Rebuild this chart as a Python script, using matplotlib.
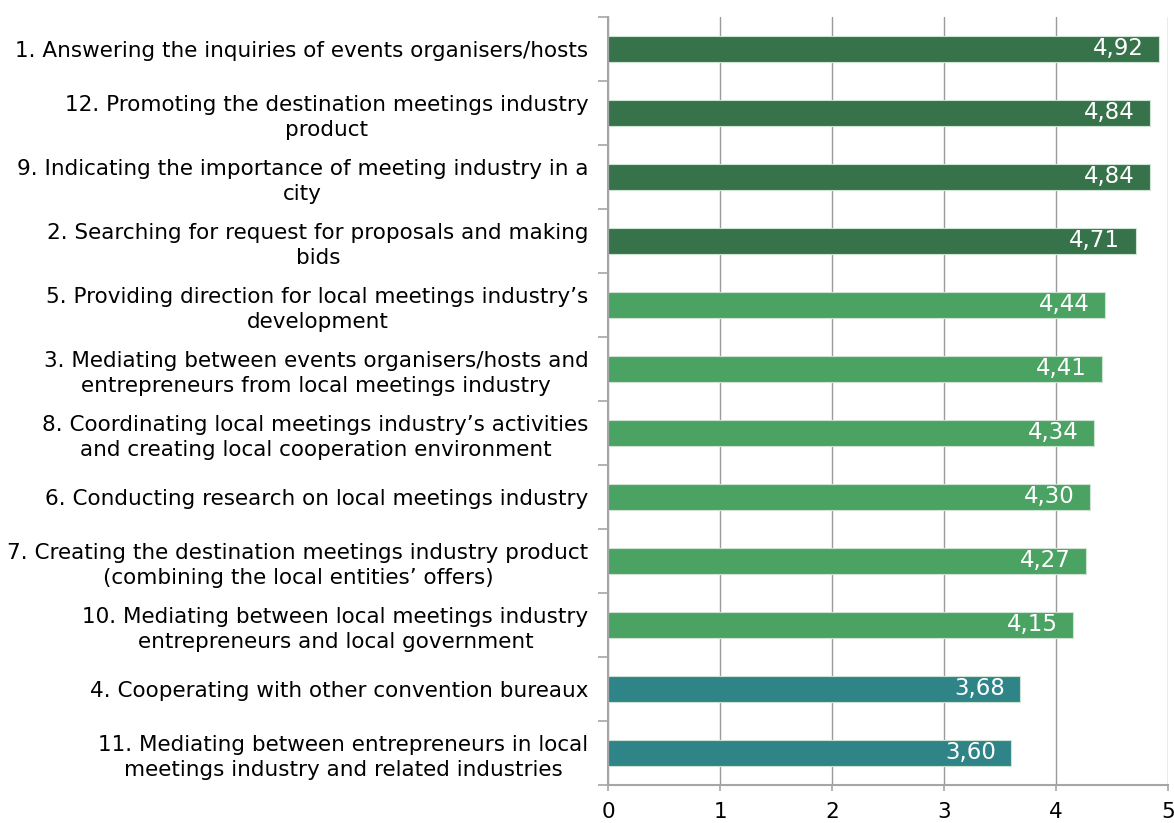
import matplotlib
matplotlib.use("Agg")
import matplotlib.pyplot as plt
import numpy as np

labels = [
    "1. Answering the inquiries of events organisers/hosts",
    "12. Promoting the destination meetings industry\nproduct",
    "9. Indicating the importance of meeting industry in a\ncity",
    "2. Searching for request for proposals and making\nbids",
    "5. Providing direction for local meetings industry\u2019s\ndevelopment",
    "3. Mediating between events organisers/hosts and\nentrepreneurs from local meetings industry",
    "8. Coordinating local meetings industry\u2019s activities\nand creating local cooperation environment",
    "6. Conducting research on local meetings industry",
    "7. Creating the destination meetings industry product\n(combining the local entities\u2019 offers)",
    "10. Mediating between local meetings industry\nentrepreneurs and local government",
    "4. Cooperating with other convention bureaux",
    "11. Mediating between entrepreneurs in local\nmeetings industry and related industries",
]
values = [4.92, 4.84, 4.84, 4.71, 4.44, 4.41, 4.34, 4.30, 4.27, 4.15, 3.68, 3.60]
groups = ["high"] * 4 + ["mid"] * 6 + ["low"] * 2
group_colors = {"high": "#36734A", "mid": "#4AA363", "low": "#2F8488"}
xticks = [0, 1, 2, 3, 4, 5]

plt.rcParams['font.family'] = ['DejaVu Sans']

fig = plt.figure(figsize=(11.74, 8.23), dpi=100)
ax = fig.add_axes([608/1174, 1 - 785/823, 560/1174, 768/823])

ypos = np.arange(len(values))
colors = [group_colors[g] for g in groups]
bars = ax.barh(ypos, values, height=0.41, color=colors,
               edgecolor="#cfe3d4", linewidth=0.8, zorder=3)

for y, v in zip(ypos, values):
    ax.annotate(f"{v:.2f}".replace(".", ","), xy=(v, y), xytext=(-11, 0),
                textcoords="offset points", ha="right", va="center",
                color="white", fontsize=16.5, zorder=4)

ax.set_xlim(0, 5)
ax.set_ylim(len(values) - 0.5, -0.5)
ax.set_xticks(xticks)
ax.set_xticklabels([str(t) for t in xticks], fontsize=15.5)
ax.set_yticks(ypos)
ax.set_yticklabels(labels, fontsize=15.5, multialignment="center",
                   linespacing=1.3)
ax.set_yticks(np.arange(len(values) + 1) - 0.5, minor=True)

ax.tick_params(axis="y", which="major", length=0, pad=14)
ax.tick_params(axis="y", which="minor", length=7, color="#a6a6a6", width=1.2)
ax.tick_params(axis="x", which="major", length=4, color="#a6a6a6", width=1.2, pad=8)

ax.grid(axis="x", color="#9a9a9a", linewidth=1.0, zorder=0)
for s in ["top", "right"]:
    ax.spines[s].set_visible(False)
for s in ["left", "bottom"]:
    ax.spines[s].set_color("#a6a6a6")
    ax.spines[s].set_linewidth(1.5)
    ax.spines[s].set_zorder(5)

fig.savefig("out.png", dpi=100)
